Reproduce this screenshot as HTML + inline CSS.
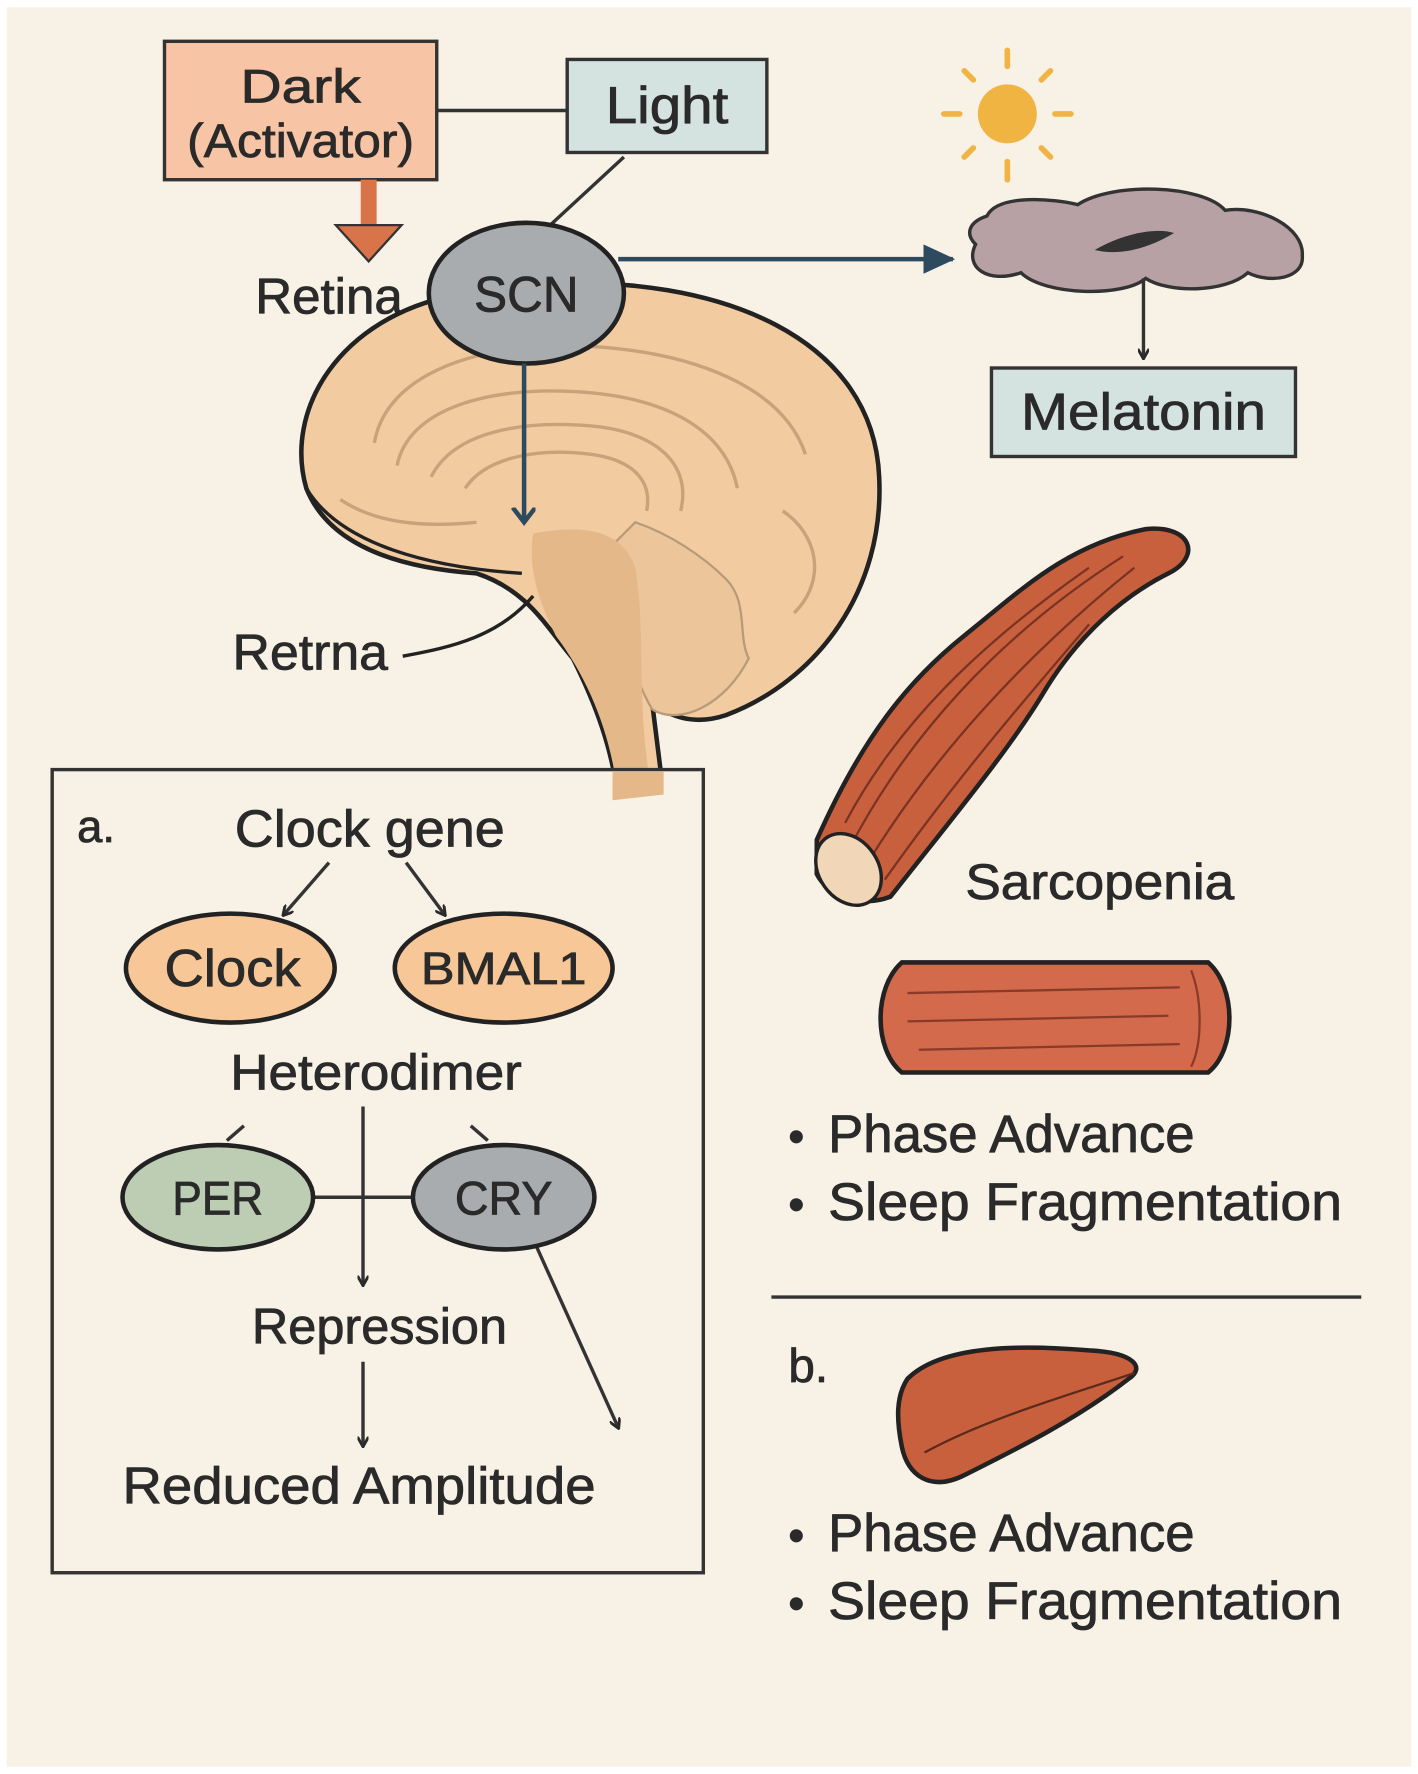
<!DOCTYPE html>
<html><head><meta charset="utf-8"><style>
html,body{margin:0;padding:0;background:#fff;}
svg{display:block;}
text{font-family:"Liberation Sans","DejaVu Sans",sans-serif;fill:#2a2a2a;stroke:#2a2a2a;stroke-width:0.7;}
</style></head><body>
<svg width="1418" height="1774" viewBox="0 0 1250 1563" xmlns="http://www.w3.org/2000/svg">
<defs>
<marker id="ah" markerWidth="10" markerHeight="10" refX="8" refY="5" orient="auto" markerUnits="userSpaceOnUse"><path d="M0,0 L9,5 L0,10" fill="none" stroke="#2a2a2a" stroke-width="2.5"/></marker>
<marker id="ahb" markerWidth="30" markerHeight="30" refX="26" refY="13" orient="auto" markerUnits="userSpaceOnUse"><path d="M0,0 L28,13 L0,26 Z" fill="#2d4a5e"/></marker>
<marker id="ahb2" markerWidth="30" markerHeight="30" refX="13" refY="10" orient="auto" markerUnits="userSpaceOnUse"><path d="M0,0 L13,10 L0,20" fill="none" stroke="#2d4a5e" stroke-width="4"/></marker>
</defs>
<rect x="0" y="0" width="1250" height="1563" fill="#fff"/>
<rect x="6" y="6" width="1238" height="1551" fill="#f8f1e5"/>

<rect x="145" y="36" width="240" height="122" fill="#f7c4a5" stroke="#333" stroke-width="3"/>
<text x="265" y="90" font-size="42" text-anchor="middle" textLength="106" lengthAdjust="spacingAndGlyphs">Dark</text>
<text x="265" y="138" font-size="42" text-anchor="middle" textLength="200" lengthAdjust="spacingAndGlyphs">(Activator)</text>
<line x1="385" y1="97" x2="500" y2="97" stroke="#333" stroke-width="3"/>
<rect x="500" y="52" width="176" height="82" fill="#d5e3e0" stroke="#333" stroke-width="3"/>
<text x="588" y="108" font-size="46" text-anchor="middle" textLength="108" lengthAdjust="spacingAndGlyphs">Light</text>
<line x1="550" y1="138" x2="485" y2="198" stroke="#333" stroke-width="3"/>
<rect x="318" y="158" width="14" height="42" fill="#d9744a"/>
<path d="M296,198 L354,198 L325,230 Z" fill="#d9744a" stroke="#333" stroke-width="2"/>
<text x="225" y="276" font-size="44" textLength="130" lengthAdjust="spacingAndGlyphs">Retina</text>

<circle cx="888" cy="100" r="26" fill="#f0b443"/>
<g stroke="#f0b443" stroke-width="5" stroke-linecap="round">
<line x1="888" y1="58" x2="888" y2="44"/><line x1="888" y1="142" x2="888" y2="158"/>
<line x1="846" y1="100" x2="832" y2="100"/><line x1="930" y1="100" x2="944" y2="100"/>
<line x1="858" y1="70" x2="850" y2="62"/><line x1="918" y1="70" x2="926" y2="62"/>
<line x1="858" y1="130" x2="850" y2="138"/><line x1="918" y1="130" x2="926" y2="138"/>
</g>
<path d="M870,190 C880,170 930,175 950,180 C980,160 1060,162 1080,185 C1110,180 1150,200 1148,225 C1150,245 1120,250 1100,240 C1080,258 1030,258 1010,245 C990,262 920,260 900,240 C870,250 850,235 860,215 C850,205 855,195 870,190 Z" fill="#b8a1a4" stroke="#333" stroke-width="3"/>
<path d="M965,220 C990,205 1020,200 1035,205 C1010,220 985,225 965,220 Z" fill="#333"/>
<line x1="1008" y1="245" x2="1008" y2="315" stroke="#333" stroke-width="3" marker-end="url(#ah)"/>
<rect x="874" y="324" width="268" height="78" fill="#d5e3e0" stroke="#333" stroke-width="3"/>
<text x="1008" y="378" font-size="46" text-anchor="middle" textLength="216" lengthAdjust="spacingAndGlyphs">Melatonin</text>

<path d="M470,250 C640,240 770,300 775,420 C780,520 720,600 640,630 C610,640 590,630 575,620 L585,700 L545,705 C540,660 525,620 505,580 C480,550 465,520 420,505 C350,500 290,480 270,430 C250,360 300,280 400,260 Z" fill="#f2cca0" stroke="#222" stroke-width="4"/>
<path d="M560,460 C590,470 620,490 640,510 C660,530 650,560 660,580 C640,620 600,640 575,625 C560,600 540,540 530,490 Z" fill="#edc59a" stroke="#b99a78" stroke-width="2"/>
<path d="M470,470 C520,460 550,470 560,500 C570,560 560,620 575,700 L545,705 C540,650 520,600 490,560 C475,530 465,500 470,470 Z" fill="#e5b88a"/>
<g fill="none" stroke="#c9a27c" stroke-width="3">
<path d="M330,390 C340,330 420,300 520,305 C610,310 690,340 710,400"/>
<path d="M350,410 C360,360 430,340 510,345 C590,350 640,380 650,430"/>
<path d="M380,420 C400,380 460,370 520,375 C580,380 610,410 600,450"/>
<path d="M410,430 C430,400 480,395 520,400 C560,405 575,425 570,450"/>
<path d="M300,440 C330,460 370,465 420,460"/>
<path d="M690,450 C720,470 730,510 700,540"/>
</g>
<path d="M270,430 C300,480 380,500 460,505" fill="none" stroke="#222" stroke-width="3"/>
<ellipse cx="464" cy="258" rx="86" ry="62" fill="#a9acae" stroke="#222" stroke-width="4"/>
<text x="464" y="274" font-size="44" text-anchor="middle" textLength="92" lengthAdjust="spacingAndGlyphs">SCN</text>
<line x1="545" y1="228" x2="840" y2="228" stroke="#2d4a5e" stroke-width="4" marker-end="url(#ahb)"/>
<line x1="462" y1="320" x2="462" y2="460" stroke="#2d4a5e" stroke-width="4" marker-end="url(#ahb2)"/>
<text x="205" y="590" font-size="44" textLength="137" lengthAdjust="spacingAndGlyphs">Retrna</text>
<path d="M355,578 C400,570 440,560 470,525" fill="none" stroke="#222" stroke-width="3"/>

<rect x="46" y="678" width="574" height="708" fill="#f8f1e5" stroke="#333" stroke-width="3"/>
<path d="M540,705 L585,700 L585,680 L540,680 Z" fill="#e5b88a"/>
<text x="68" y="742" font-size="40">a.</text>
<text x="207" y="746" font-size="46" textLength="238" lengthAdjust="spacingAndGlyphs">Clock gene</text>
<line x1="290" y1="760" x2="250" y2="806" stroke="#333" stroke-width="3" marker-end="url(#ah)"/>
<line x1="358" y1="760" x2="392" y2="806" stroke="#333" stroke-width="3" marker-end="url(#ah)"/>
<ellipse cx="203" cy="853" rx="92" ry="48" fill="#f7c797" stroke="#222" stroke-width="4"/>
<text x="205" y="869" font-size="46" text-anchor="middle" textLength="120" lengthAdjust="spacingAndGlyphs">Clock</text>
<ellipse cx="444" cy="853" rx="96" ry="48" fill="#f7c797" stroke="#222" stroke-width="4"/>
<text x="444" y="867" font-size="40" text-anchor="middle" textLength="146" lengthAdjust="spacingAndGlyphs">BMAL1</text>
<text x="203" y="960" font-size="44" textLength="257" lengthAdjust="spacingAndGlyphs">Heterodimer</text>
<line x1="200" y1="1005" x2="215" y2="992" stroke="#333" stroke-width="3"/>
<line x1="415" y1="992" x2="430" y2="1005" stroke="#333" stroke-width="3"/>
<line x1="270" y1="1055" x2="370" y2="1055" stroke="#333" stroke-width="3"/>
<line x1="320" y1="975" x2="320" y2="1132" stroke="#333" stroke-width="3" marker-end="url(#ah)"/>
<line x1="470" y1="1092" x2="545" y2="1258" stroke="#333" stroke-width="3" marker-end="url(#ah)"/>
<ellipse cx="192" cy="1055" rx="84" ry="46" fill="#bccdb4" stroke="#222" stroke-width="4"/>
<text x="192" y="1070" font-size="42" text-anchor="middle" textLength="80" lengthAdjust="spacingAndGlyphs">PER</text>
<ellipse cx="444" cy="1055" rx="80" ry="46" fill="#a9acae" stroke="#222" stroke-width="4"/>
<text x="444" y="1070" font-size="42" text-anchor="middle" textLength="86" lengthAdjust="spacingAndGlyphs">CRY</text>
<text x="222" y="1184" font-size="44" textLength="225" lengthAdjust="spacingAndGlyphs">Repression</text>
<line x1="320" y1="1200" x2="320" y2="1274" stroke="#333" stroke-width="3" marker-end="url(#ah)"/>
<text x="108" y="1325" font-size="46" textLength="417" lengthAdjust="spacingAndGlyphs">Reduced Amplitude</text>

<path d="M720,740 C760,650 800,600 850,560 C900,520 940,480 1010,466 C1050,462 1060,490 1030,505 C990,525 950,560 920,610 C890,660 840,720 785,790 C760,800 730,790 720,770 Z" fill="#c8603e" stroke="#222" stroke-width="4"/>
<g fill="none" stroke="#7a3322" stroke-width="2">
<path d="M750,745 C800,650 880,560 990,490"/>
<path d="M765,760 C820,670 900,580 1000,500"/>
<path d="M745,725 C790,640 860,570 960,500"/>
<path d="M780,775 C840,690 900,620 960,550"/>
</g>
<ellipse cx="748" cy="766" rx="26" ry="34" transform="rotate(-35 748 766)" fill="#f1d6b8" stroke="#222" stroke-width="3"/>
<text x="851" y="792" font-size="44" textLength="237" lengthAdjust="spacingAndGlyphs">Sarcopenia</text>
<path d="M795,848 L1065,848 C1090,870 1090,925 1065,945 L795,945 C770,925 770,870 795,848 Z" fill="#d36a4c" stroke="#222" stroke-width="4"/>
<g fill="none" stroke="#8a3a28" stroke-width="2">
<path d="M800,875 L1040,870"/><path d="M800,900 L1030,895"/><path d="M810,925 L1040,920"/><path d="M1050,855 C1060,880 1060,920 1050,940"/>
</g>
<text x="695" y="1015" font-size="40">•</text><text x="730" y="1015" font-size="47" textLength="323" lengthAdjust="spacingAndGlyphs">Phase Advance</text>
<text x="695" y="1075" font-size="40">•</text><text x="730" y="1075" font-size="47" textLength="453" lengthAdjust="spacingAndGlyphs">Sleep Fragmentation</text>
<line x1="680" y1="1143" x2="1200" y2="1143" stroke="#333" stroke-width="3"/>
<text x="695" y="1218" font-size="42">b.</text>
<path d="M800,1215 C830,1185 900,1185 960,1190 C1000,1192 1010,1205 995,1215 C950,1250 900,1275 850,1300 C820,1315 800,1300 795,1275 C790,1250 790,1230 800,1215 Z" fill="#c8603e" stroke="#222" stroke-width="4"/>
<path d="M815,1280 C870,1250 940,1230 1000,1210" fill="none" stroke="#5a2a1a" stroke-width="2"/>
<text x="695" y="1367" font-size="40">•</text><text x="730" y="1367" font-size="47" textLength="323" lengthAdjust="spacingAndGlyphs">Phase Advance</text>
<text x="695" y="1427" font-size="40">•</text><text x="730" y="1427" font-size="47" textLength="453" lengthAdjust="spacingAndGlyphs">Sleep Fragmentation</text>
</svg>
</body></html>
